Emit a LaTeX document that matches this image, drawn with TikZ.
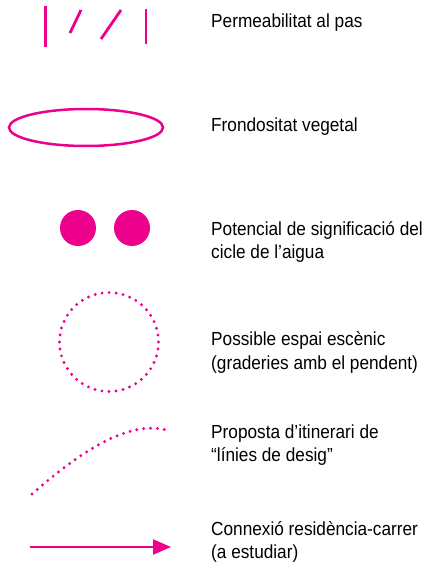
\documentclass[tikz,border=0pt]{standalone}
\usepackage{fontspec}
\setmainfont{Liberation Sans}[FakeStretch=0.91]
\usepackage{tikz}
\usetikzlibrary{positioning, arrows.meta}
\definecolor{legendpink}{RGB}{236,0,140}
\tikzset{
    legendtext/.style={anchor=base west, align=left, inner sep=0pt, font=\fontsize{19}{23.5}\selectfont},
    strokeline/.style={legendpink, line width=2.8bp},
    dotline/.style={legendpink, line width=3.2bp, line cap=round, dash pattern=on 0pt off 7.07bp},
}

\begin{document}
\begin{tikzpicture}[x=1bp, y=-1bp]
    \useasboundingbox (0,0) rectangle (428,579);

    % Labels (base = last line)
    \node[legendtext] (perm) at (211,28) {Permeabilitat al pas};
    \node[legendtext] (frond) at (211,132) {Frondositat vegetal};
    \node[legendtext] (aigua) at (211,258.5) {Potencial de significació del\\cicle de l’aigua};
    \node[legendtext] (escen) at (211,369) {Possible espai escènic\\(graderies amb el pendent)};
    \node[legendtext] (itin) at (211,461.5) {Proposta d’itinerari de\\“línies de desig”};
    \node[legendtext] (conn) at (211,558.5) {Connexió residència-carrer\\(a estudiar)};

    % Permeabilitat al pas
    \draw[strokeline] (45.7,6) -- (45.7,47);
    \draw[strokeline] (81,10) -- (70,33);
    \draw[strokeline] (121,10) -- (101,39);
    \draw[strokeline] (146,9) -- (146,44);

    % Frondositat vegetal
    \draw[strokeline, line width=2.5bp] (86,127.5) ellipse[x radius=77, y radius=18.5];

    % Cicle de l'aigua
    \foreach \x in {78,132} {
        \fill[legendpink] (\x,228) circle[radius=18];
    }

    % Espai escenic
    \draw[dotline] (109,342) circle[radius=49.5];

    % Linies de desig
    \draw[dotline, dash pattern=on 0pt off 6.9bp] (32,494) .. controls (80,452) and (130,418) .. (170,431);

    % Connexio residencia-carrer
    \coordinate (arrstart) at (30,547);
    \coordinate (arrend) at (171,547);
    \draw[legendpink, line width=2.2bp, -{Triangle[length=18bp, width=15bp]}] (arrstart) -- (arrend);
\end{tikzpicture}
\end{document}
